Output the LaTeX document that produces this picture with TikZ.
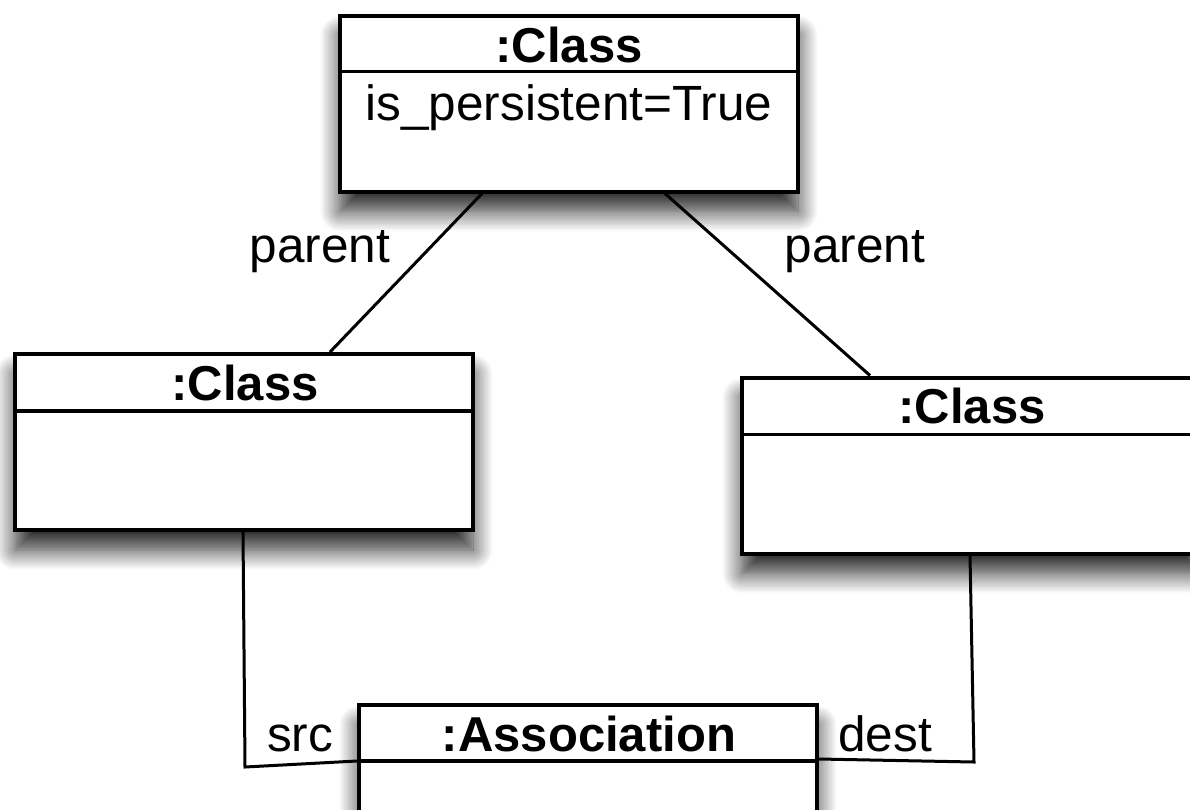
\documentclass[tikz,border=0pt]{standalone}
\usepackage{fontspec}
\setmainfont{Liberation Sans}
\usetikzlibrary{shadows.blur}
\begin{document}
\begin{tikzpicture}[x=1pt,y=-1pt,
  box/.style={draw=black,line width=4pt,fill=white,inner sep=0pt,
    minimum width=458pt,minimum height=176pt,
    blur shadow={shadow xshift=0pt,shadow yshift=-20pt,shadow blur radius=20pt,shadow blur steps=16,shadow opacity=85}},
  ttl/.style={font=\fontsize{49}{56}\selectfont\bfseries,inner sep=0pt,anchor=base},
  lbl/.style={font=\fontsize{49.5}{56}\selectfont,inner sep=0pt,anchor=base},
  sep/.style={line width=3.5pt},
  conn/.style={draw=black,line width=3pt}]
\useasboundingbox (0,0) rectangle (1190,809);
% boxes
\node[box] (top) at (569,103.5) {};
\node[box] (left) at (244,442) {};
\node[box,minimum width=460pt] (right) at (972,465.5) {};
\node[box,minimum width=458pt] (assoc) at (588,793) {};
% separators
\draw[sep] ([yshift=-58pt]top.north west) -- ([yshift=-58pt]top.north east);
\draw[sep] ([yshift=-59pt]left.north west) -- ([yshift=-59pt]left.north east);
\draw[sep] ([yshift=-59pt]right.north west) -- ([yshift=-59pt]right.north east);
\draw[sep] ([yshift=-58pt]assoc.north west) -- ([yshift=-58pt]assoc.north east);
% texts
\node[ttl] (topT) at (569,62) {:Class};
\node[lbl] (topA) at (569,120) {is\_persistent=True};
\node[ttl] (leftT) at (245,400) {:Class};
\node[ttl] (rightT) at (972,423) {:Class};
\node[ttl] (assocT) at (589,751) {:Association};
% connectors
\coordinate (srcbend) at (245,767);
\coordinate (destbend) at (974,762);
\draw[conn] ([xshift=144pt]top.south west) -- ([xshift=317pt]left.north west);
\draw[conn] ([xshift=327pt]top.south west) -- ([xshift=130pt]right.north west);
\draw[conn] ([xshift=230pt]left.south west) -- (srcbend) -- ([yshift=-58pt]assoc.north west);
\draw[conn] ([xshift=230pt]right.south west) -- (destbend) -- ([yshift=-56pt]assoc.north east);
% labels
\node[lbl] (p1) at (320,262) {parent};
\node[lbl] (p2) at (855,262) {parent};
\node[lbl] (src) at (300,751) {src};
\node[lbl] (dest) at (885,751) {dest};
\end{tikzpicture}
\end{document}
